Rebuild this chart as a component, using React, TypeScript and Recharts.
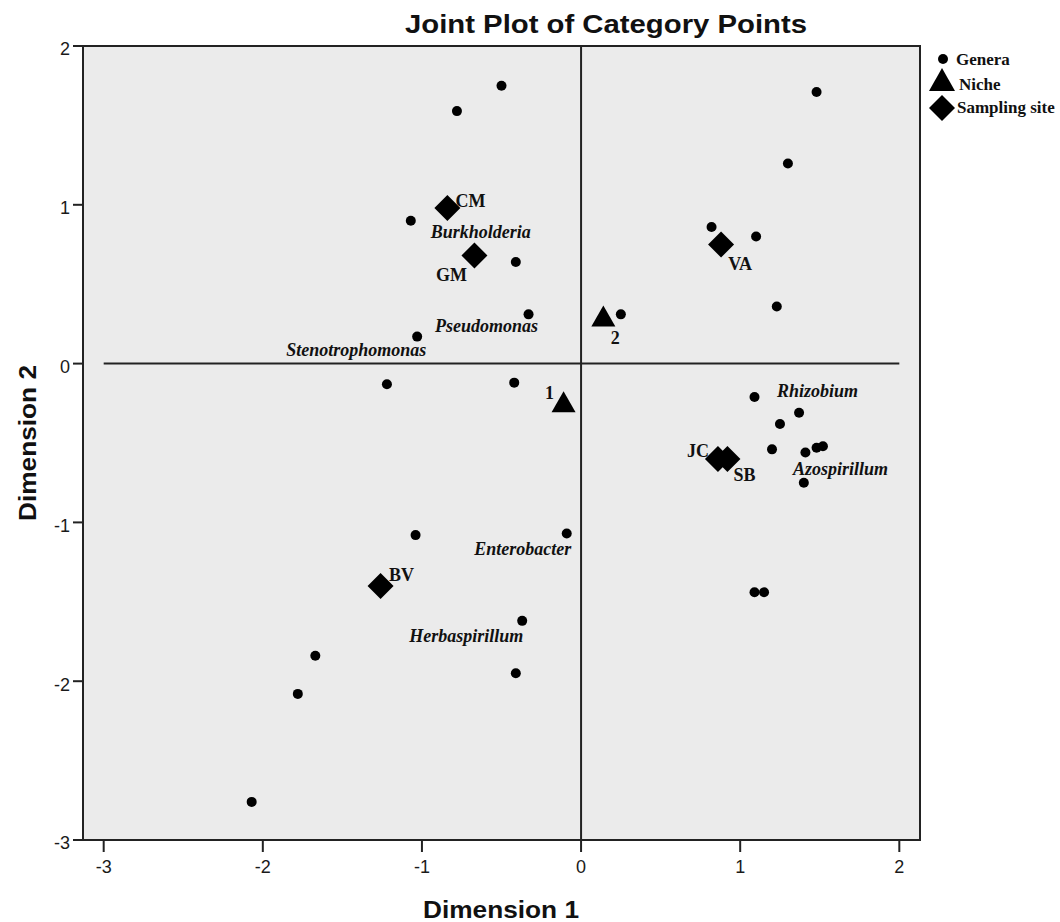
import React from 'react';
import { ScatterChart, Scatter, XAxis, YAxis, ReferenceArea, ReferenceLine } from 'recharts';

// genera (circles)
const generaX = [-0.5, -0.78, 1.48, 1.3, -1.07, -0.41, 0.82, 1.1, -0.33, -1.03, 0.25, 1.23, -1.22, -0.42, 1.09, 1.37, 1.25, 1.2, 1.41, 1.48, 1.52, 1.4, -1.04, -0.09, -0.37, -0.41, -1.67, -1.78, -2.07, 1.09, 1.15];
const generaY = [1.75, 1.59, 1.71, 1.26, 0.9, 0.64, 0.86, 0.8, 0.31, 0.17, 0.31, 0.36, -0.13, -0.12, -0.21, -0.31, -0.38, -0.54, -0.56, -0.53, -0.52, -0.75, -1.08, -1.07, -1.62, -1.95, -1.84, -2.08, -2.76, -1.44, -1.44];
const generaLabels = ['', '', '', '', 'Burkholderia', '', '', '', 'Pseudomonas', 'Stenotrophomonas', '', '', '', '', 'Rhizobium', '', '', '', 'Azospirillum', '', '', '', '', 'Enterobacter', 'Herbaspirillum', '', '', '', '', '', ''];

// niche (triangles)
const nicheNames = ['1', '2'];
const nicheX = [-0.11, 0.14];
const nicheY = [-0.25, 0.29];

// sampling sites (diamonds)
const siteNames = ['CM', 'GM', 'VA', 'JC', 'SB', 'BV'];
const siteX = [-0.84, -0.67, 0.88, 0.86, 0.92, -1.26];
const siteY = [0.98, 0.68, 0.75, -0.6, -0.6, -1.4];

const axisTicks = [-3, -2, -1, 0, 1, 2];

const generaData = generaX.map((x, i) => ({ x, y: generaY[i], name: generaLabels[i] }));
const nicheData = nicheX.map((x, i) => ({ x, y: nicheY[i], name: nicheNames[i] }));
const siteData = siteX.map((x, i) => ({ x, y: siteY[i], name: siteNames[i] }));

// where each label sits relative to its point, in px
const labelOffset: Record<string, [number, number]> = {
  Burkholderia: [70, 11],
  Pseudomonas: [-42, 12],
  Stenotrophomonas: [-61, 13],
  Rhizobium: [63, -6],
  Azospirillum: [35, 16],
  Enterobacter: [-44, 15],
  Herbaspirillum: [-56, 15],
  CM: [23, -7],
  GM: [-23, 19],
  VA: [19, 19],
  JC: [-20, -8],
  SB: [17, 16],
  BV: [21, -11],
  '1': [-14, -10],
  '2': [12, 20],
};

const serif = "'Liberation Serif', 'Times New Roman', serif";
const sans = "'Liberation Sans', Arial, sans-serif";
const ink = '#111';

function PointLabel({ cx, cy, name, italic }: { cx: number; cy: number; name: string; italic?: boolean }) {
  const off = labelOffset[name];
  if (!name || !off) return null;
  return (
    <text
      x={cx + off[0]}
      y={cy + off[1]}
      textAnchor="middle"
      dominantBaseline="central"
      fontFamily={serif}
      fontWeight="bold"
      fontStyle={italic ? 'italic' : 'normal'}
      fontSize={italic ? 18 : 18}
      fill={ink}
    >
      {name}
    </text>
  );
}

const GenusShape = (props: any) => {
  const { cx, cy, payload } = props;
  return (
    <g>
      <circle cx={cx} cy={cy} r={5} fill="#000" />
      <PointLabel cx={cx} cy={cy} name={payload.name} italic />
    </g>
  );
};

const NicheShape = (props: any) => {
  const { cx, cy, payload } = props;
  return (
    <g>
      <polygon points={`${cx},${cy - 12} ${cx - 12},${cy + 9} ${cx + 12},${cy + 9}`} fill="#000" />
      <PointLabel cx={cx} cy={cy} name={payload.name} />
    </g>
  );
};

const SiteShape = (props: any) => {
  const { cx, cy, payload } = props;
  return (
    <g>
      <polygon points={`${cx},${cy - 13} ${cx + 13},${cy} ${cx},${cy + 13} ${cx - 13},${cy}`} fill="#000" />
      <PointLabel cx={cx} cy={cy} name={payload.name} />
    </g>
  );
};

export default function App() {
  const tickStyle = { fontSize: 18, fill: '#1a1a1a', fontFamily: sans };
  const line = { stroke: '#222', strokeWidth: 2 };
  return (
    <div style={{ position: 'relative', width: 1060, height: 922, background: '#fff' }}>
      <style>{'body{margin:0}'}</style>
      <ScatterChart width={1060} height={922} margin={{ top: 46, right: 140, bottom: 0, left: 0 }}>
        <XAxis
          type="number"
          dataKey="x"
          domain={[-3.13, 2.13]}
          ticks={axisTicks}
          allowDataOverflow
          height={82}
          tick={tickStyle}
          tickSize={12}
          tickMargin={8}
          axisLine={line}
          tickLine={line}
        />
        <YAxis
          type="number"
          dataKey="y"
          domain={[-3, 2]}
          ticks={axisTicks}
          allowDataOverflow
          width={83}
          tick={{ ...tickStyle, dy: 3 }}
          tickSize={10}
          tickMargin={3}
          axisLine={line}
          tickLine={line}
        />
        <ReferenceArea x1={-3.13} x2={2.13} y1={-3} y2={2} fill="#ebebeb" fillOpacity={1} stroke="#222" strokeWidth={2} />
        <ReferenceLine segment={[{ x: -3, y: 0 }, { x: 2, y: 0 }]} stroke="#222" strokeWidth={2} />
        <ReferenceLine x={0} stroke="#222" strokeWidth={2} />
        <Scatter name="Genera" data={generaData} shape={GenusShape} isAnimationActive={false} />
        <Scatter name="Niche" data={nicheData} shape={NicheShape} isAnimationActive={false} />
        <Scatter name="Sampling site" data={siteData} shape={SiteShape} isAnimationActive={false} />
      </ScatterChart>
      <svg width={1060} height={922} style={{ position: 'absolute', left: 0, top: 0, pointerEvents: 'none' }}>
        <text x={606} y={24} textAnchor="middle" dominantBaseline="central" fontFamily={sans} fontWeight="bold" fontSize={25} fill={ink} textLength={402} lengthAdjust="spacingAndGlyphs">
          Joint Plot of Category Points
        </text>
        <text x={501} y={910} textAnchor="middle" dominantBaseline="central" fontFamily={sans} fontWeight="bold" fontSize={23} fill={ink} textLength={156} lengthAdjust="spacingAndGlyphs">
          Dimension 1
        </text>
        <text x={28} y={443} transform="rotate(-90 28 443)" textAnchor="middle" dominantBaseline="central" fontFamily={sans} fontWeight="bold" fontSize={23} fill={ink} textLength={156} lengthAdjust="spacingAndGlyphs">
          Dimension 2
        </text>
        <circle cx={943} cy={59} r={5} fill="#000" />
        <text x={956} y={59} dominantBaseline="central" fontFamily={serif} fontWeight="bold" fontSize={17} fill={ink}>Genera</text>
        <polygon points="942,68 929,91 955,91" fill="#000" />
        <text x={959} y={84} dominantBaseline="central" fontFamily={serif} fontWeight="bold" fontSize={17} fill={ink}>Niche</text>
        <polygon points="942,95 955,108 942,121 929,108" fill="#000" />
        <text x={957} y={107} dominantBaseline="central" fontFamily={serif} fontWeight="bold" fontSize={17} fill={ink}>Sampling site</text>
      </svg>
    </div>
  );
}
